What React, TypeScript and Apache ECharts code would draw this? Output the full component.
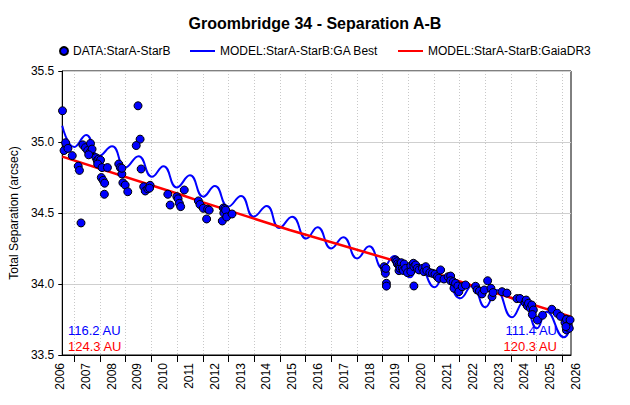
import React, { useEffect, useRef } from "react";
import * as echarts from "echarts";

const TITLE = "Groombridge 34 - Separation A-B";
const SERIES_NAMES = ["DATA:StarA-StarB", "MODEL:StarA-StarB:GA Best", "MODEL:StarA-StarB:GaiaDR3"];
const Y_NAME = "Total Separation (arcsec)";
const Y_MIN = 33.5;
const Y_MAX = 35.5;
const Y_STEP = 0.5;
const YEAR_FIRST = 2006;
const YEAR_LAST = 2026;
const X_MAX = 2025.806;
const TICK_OFFSET = 0.47;

// measured separations [year, arcsec]
const observations: [number, number][] = [
  [2006.01, 35.22], [2006.07, 34.94], [2006.13, 34.995], [2006.22, 34.955], [2006.39, 34.904],
  [2006.62, 34.83], [2006.67, 34.8], [2006.73, 34.43], [2006.8, 34.98], [2006.9, 34.96],
  [2006.99, 34.94], [2007.07, 34.925], [2007.1, 34.99], [2007.16, 34.95], [2007.03, 34.91],
  [2007.31, 34.89], [2007.36, 34.87], [2007.42, 34.88], [2007.49, 34.873], [2007.38, 34.845],
  [2007.55, 34.82], [2007.76, 34.82], [2007.52, 34.75], [2007.59, 34.73], [2007.65, 34.71],
  [2007.64, 34.632],
  [2008.2, 34.845], [2008.26, 34.82], [2008.32, 34.775], [2008.36, 34.713], [2008.45, 34.697],
  [2008.55, 34.65], [2008.32, 34.815],
  [2008.95, 35.255], [2009.03, 35.02], [2008.88, 34.975], [2009.07, 34.81], [2009.17, 34.685],
  [2009.23, 34.655], [2009.33, 34.67], [2009.42, 34.695], [2009.4, 34.675],
  [2010.11, 34.632], [2010.2, 34.556], [2010.46, 34.615], [2010.51, 34.6], [2010.56, 34.568],
  [2010.61, 34.545], [2010.75, 34.662],
  [2011.3, 34.585], [2011.36, 34.56], [2011.49, 34.533], [2011.62, 34.458], [2011.66, 34.527],
  [2011.72, 34.52],
  [2012.23, 34.444], [2012.27, 34.535], [2012.29, 34.5], [2012.33, 34.53], [2012.36, 34.52],
  [2012.4, 34.472], [2012.61, 34.493],
  [2018.53, 34.122], [2018.56, 34.1], [2018.58, 34.075], [2018.62, 34.005], [2018.62, 33.985],
  [2018.6, 34.11],
  [2018.98, 34.169], [2019.02, 34.157], [2019.05, 34.141], [2019.11, 34.134], [2019.11, 34.094],
  [2019.14, 34.125], [2019.15, 34.11], [2019.2, 34.15], [2019.24, 34.11], [2019.28, 34.095],
  [2019.31, 34.141], [2019.37, 34.11], [2019.44, 34.08], [2019.57, 34.127], [2019.57, 34.087],
  [2019.67, 34.146], [2019.69, 34.122], [2019.69, 33.986], [2019.76, 34.134], [2019.82, 34.11],
  [2019.89, 34.099],
  [2020.02, 34.11], [2020.08, 34.087], [2020.15, 34.122], [2020.19, 34.094], [2020.31, 34.08],
  [2020.41, 34.075], [2020.51, 34.07], [2020.6, 34.051], [2020.66, 34.04], [2020.73, 34.099],
  [2020.86, 34.035], [2021.02, 34.051], [2021.12, 34.056], [2021.12, 34.023], [2021.22, 34.016],
  [2021.25, 33.97], [2021.31, 34.005], [2021.4, 33.986], [2021.44, 33.946], [2021.57, 33.981],
  [2021.7, 33.993],
  [2022.09, 33.984], [2022.15, 33.958], [2022.24, 33.95], [2022.34, 33.93], [2022.43, 33.958],
  [2022.56, 34.023], [2022.69, 33.97], [2022.73, 33.91], [2022.77, 33.94],
  [2023.12, 33.946], [2023.31, 33.936],
  [2023.7, 33.897], [2023.82, 33.898], [2024.02, 33.868], [2024.06, 33.887], [2024.11, 33.845],
  [2024.15, 33.864], [2024.22, 33.83], [2024.28, 33.852], [2024.34, 33.817], [2024.3, 33.785],
  [2024.5, 33.746], [2024.7, 33.78],
  [2025.06, 33.822], [2025.27, 33.794], [2025.4, 33.772], [2025.57, 33.728], [2025.63, 33.751],
  [2025.7, 33.711], [2025.63, 33.676], [2025.74, 33.688], [2025.77, 33.747], [2025.61, 33.7],
];

// GA best model (read at its turning points)
const modelGA: [number, number][] = [
  [2006.0, 35.115], [2006.47, 34.965], [2006.93, 35.05], [2007.42, 34.9], [2007.94, 34.97],
  [2008.45, 34.82], [2008.97, 34.9], [2009.49, 34.755], [2009.94, 34.83], [2010.46, 34.68],
  [2010.97, 34.765], [2011.49, 34.615], [2011.94, 34.69], [2012.46, 34.545], [2012.96, 34.62],
  [2013.45, 34.474], [2013.96, 34.55], [2014.45, 34.395], [2014.95, 34.474], [2015.5, 34.32],
  [2015.94, 34.4], [2016.47, 34.25], [2016.94, 34.33], [2017.48, 34.18], [2017.95, 34.265],
  [2018.48, 34.11], [2018.92, 34.197], [2019.54, 34.047], [2019.9, 34.13], [2020.5, 33.977],
  [2020.85, 34.05], [2021.5, 33.9], [2021.95, 33.99], [2022.47, 33.836], [2022.9, 33.958],
  [2023.51, 33.765], [2023.96, 33.875], [2024.48, 33.688], [2024.86, 33.805], [2025.53, 33.625],
  [2025.8, 33.7],
];

// Gaia DR3 model
const modelGaia: [number, number][] = [
  [2006.0, 34.897], [2010.65, 34.627], [2011.49, 34.575], [2014.85, 34.38], [2019.95, 34.11],
  [2021.89, 33.993], [2025.8, 33.77],
];

const auNotes = [
  { text: "116.2 AU", color: "#0000ff", side: "left", row: 0 },
  { text: "124.3 AU", color: "#ff0000", side: "left", row: 1 },
  { text: "111.4 AU", color: "#0000ff", side: "right", row: 0 },
  { text: "120.3 AU", color: "#ff0000", side: "right", row: 1 },
];

const FONT = "'Liberation Sans', Arial, Helvetica, sans-serif";

export default function App() {
  const ref = useRef<HTMLDivElement>(null);
  useEffect(() => {
    document.body.style.margin = "0";
    if (!ref.current) return;
    const chart = echarts.init(ref.current, undefined, { renderer: "svg" });
    const tickValues = Array.from({ length: YEAR_LAST - YEAR_FIRST }, (_, i) => YEAR_FIRST + TICK_OFFSET + i);
    const option: any = {
      animation: false,
      backgroundColor: "#ffffff",
      textStyle: { fontFamily: FONT },
      title: {
        text: TITLE,
        left: "center",
        top: 10,
        textStyle: { fontFamily: FONT, fontSize: 16, fontWeight: "bold", color: "#000" },
      },
      legend: [
        {
          data: [{ name: SERIES_NAMES[0], icon: "circle" }],
          left: 54, top: 40, itemWidth: 8, itemHeight: 8,
          textStyle: { fontFamily: FONT, fontSize: 12, color: "#000" },
        },
        {
          data: [{ name: SERIES_NAMES[1], icon: "rect" }],
          left: 185, top: 40, itemWidth: 25, itemHeight: 2,
          textStyle: { fontFamily: FONT, fontSize: 12, color: "#000" },
        },
        {
          data: [{ name: SERIES_NAMES[2], icon: "rect" }],
          left: 393, top: 40, itemWidth: 25, itemHeight: 2,
          textStyle: { fontFamily: FONT, fontSize: 12, color: "#000" },
        },
      ],
      grid: [
        { left: 60, top: 71, width: 511, height: 284, show: true, borderColor: "#000", borderWidth: 1, backgroundColor: "transparent" },
        { left: 60, top: 71, width: 516, height: 284, show: false },
      ],
      xAxis: [
        {
          gridIndex: 0, type: "value", min: YEAR_FIRST, max: X_MAX,
          axisLine: { show: true, lineStyle: { color: "#000", width: 1 } },
          axisTick: { show: true, length: 7, lineStyle: { color: "#000" }, customValues: tickValues },
          axisLabel: { show: false },
          splitLine: { show: true, lineStyle: { color: "#c8c8c8", type: [1, 2], width: 1 } },
        },
        {
          gridIndex: 1, type: "value", min: YEAR_FIRST, max: YEAR_LAST, interval: 1,
          axisLine: { show: false }, axisTick: { show: false }, splitLine: { show: false },
          axisLabel: { show: true, rotate: 90, margin: 8, fontSize: 12, color: "#000", fontFamily: FONT, formatter: (v: number) => String(v) },
        },
      ],
      yAxis: [
        {
          gridIndex: 0, type: "value", min: Y_MIN, max: Y_MAX, interval: Y_STEP,
          name: Y_NAME, nameLocation: "middle", nameGap: 40,
          nameTextStyle: { fontFamily: FONT, fontSize: 12, color: "#000" },
          axisLine: { show: true, lineStyle: { color: "#000", width: 1 } },
          axisTick: { show: true, length: 4, lineStyle: { color: "#000" } },
          axisLabel: { fontSize: 12, color: "#000", margin: 8, fontFamily: FONT, formatter: (v: number) => v.toFixed(1) },
          splitLine: { show: true, lineStyle: { color: "#cfcfcf", width: 1 } },
        },
        { gridIndex: 1, type: "value", min: Y_MIN, max: Y_MAX, show: false },
      ],
      series: [
        {
          name: SERIES_NAMES[1], type: "line", xAxisIndex: 0, yAxisIndex: 0,
          data: modelGA, symbol: "none", smooth: 0.5, color: "#0000ff",
          lineStyle: { color: "#0000ff", width: 2 }, z: 2,
        },
        {
          name: SERIES_NAMES[2], type: "line", xAxisIndex: 0, yAxisIndex: 0,
          data: modelGaia, symbol: "none", color: "#ff0000",
          lineStyle: { color: "#ff0000", width: 2.5 }, z: 3,
        },
        {
          name: SERIES_NAMES[0], type: "scatter", xAxisIndex: 0, yAxisIndex: 0,
          data: observations, symbol: "circle", symbolSize: 8, color: "#0000ff",
          itemStyle: { color: "#0000ff", borderColor: "#000", borderWidth: 1, opacity: 1 }, z: 4,
        },
      ],
      graphic: auNotes.map((n) => ({
        type: "text",
        x: n.side === "left" ? 68 : 557,
        y: 324 + n.row * 16,
        z: 10,
        style: {
          text: n.text, fill: n.color, fontSize: 13, fontFamily: FONT,
          textAlign: n.side === "left" ? "left" : "right", textVerticalAlign: "top",
        },
      })),
    };
    chart.setOption(option);
    return () => chart.dispose();
  }, []);
  return <div ref={ref} style={{ width: 630, height: 405 }} />;
}
